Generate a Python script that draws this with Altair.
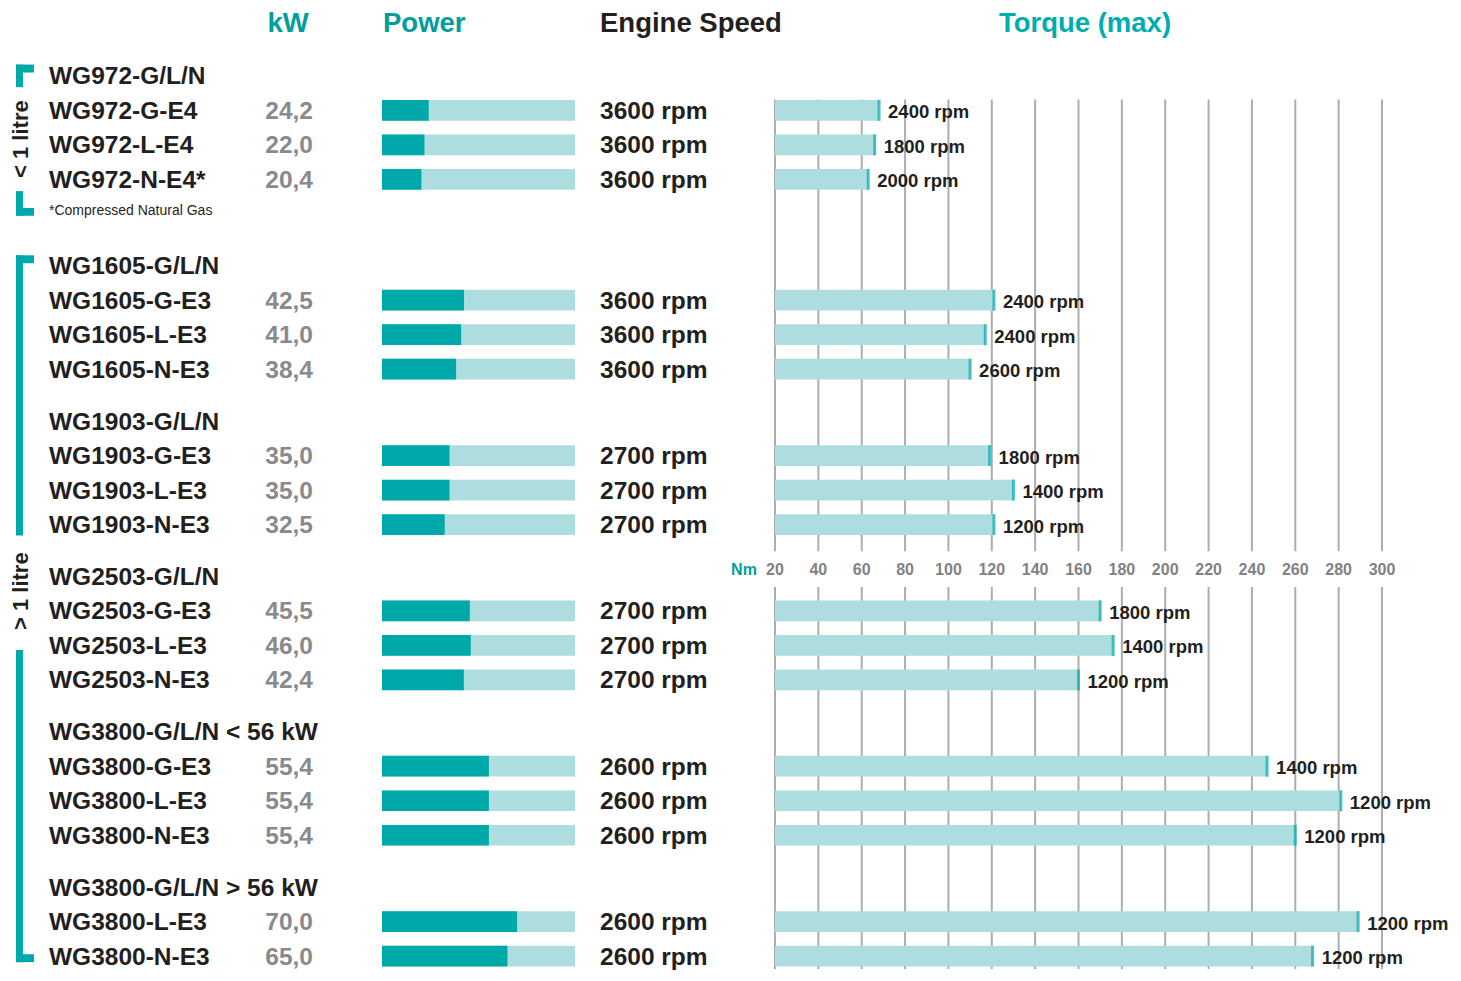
import altair as alt
import pandas as pd

# ---------------- data ----------------
group_titles = ["WG972-G/L/N", "WG1605-G/L/N", "WG1903-G/L/N", "WG2503-G/L/N",
                "WG3800-G/L/N < 56 kW", "WG3800-G/L/N > 56 kW"]
group_sizes = [3, 3, 3, 3, 3, 2]

models = ["WG972-G-E4", "WG972-L-E4", "WG972-N-E4*",
          "WG1605-G-E3", "WG1605-L-E3", "WG1605-N-E3",
          "WG1903-G-E3", "WG1903-L-E3", "WG1903-N-E3",
          "WG2503-G-E3", "WG2503-L-E3", "WG2503-N-E3",
          "WG3800-G-E3", "WG3800-L-E3", "WG3800-N-E3",
          "WG3800-L-E3", "WG3800-N-E3"]
kw = [24.2, 22.0, 20.4, 42.5, 41.0, 38.4, 35.0, 35.0, 32.5,
      45.5, 46.0, 42.4, 55.4, 55.4, 55.4, 70.0, 65.0]
engine_speed = [3600, 3600, 3600, 3600, 3600, 3600, 2700, 2700, 2700,
                2700, 2700, 2700, 2600, 2600, 2600, 2600, 2600]
torque = [68, 66, 63, 121, 117, 110, 119, 130, 121,
          170, 176, 160, 247, 281, 260, 289, 268]
torque_rpm = [2400, 1800, 2000, 2400, 2400, 2600, 1800, 1400, 1200,
              1800, 1400, 1200, 1400, 1200, 1200, 1200, 1200]
torque_ticks = [20, 40, 60, 80, 100, 120, 140, 160, 180, 200, 220, 240, 260, 280, 300]
column_headers = ["kW", "Power", "Engine Speed", "Torque (max)"]
footnote = "*Compressed Natural Gas"
class_labels = ["< 1 litre", "> 1 litre"]

# ---------------- row layout (half-row units) ----------------
header_pos, row_pos = [], []
p = 0
for gi, n in enumerate(group_sizes):
    header_pos.append(p)
    rows = [p + 2 * (k + 1) for k in range(n)]
    row_pos.extend(rows)
    p = rows[-1] + 3 + (2 if gi == 0 else 0)

foot_pos = row_pos[2] + 1.77
axis_pos = row_pos[8] + 2.57
top_pos = -3.0
HALF = 0.6  # half bar thickness

rows = pd.DataFrame({
    "model": models, "kw": kw, "speed": engine_speed, "torque": torque,
    "rpm": torque_rpm, "pos": row_pos,
})
rows["kw_label"] = [f"{v:.1f}".replace(".", ",") for v in kw]
rows["speed_label"] = [f"{v} rpm" for v in engine_speed]
rows["rpm_label"] = [f"{v} rpm" for v in torque_rpm]
rows["y0"] = rows["pos"] - HALF
rows["y1"] = rows["pos"] + HALF
rows["zero"] = 0
rows["full"] = 100
rows["tmin"] = 20

headers = pd.DataFrame({"title": group_titles, "pos": header_pos})

grid_top = row_pos[0] - HALF - 0.03
grid_bot = row_pos[-1] + 0.75
grid = pd.DataFrame(
    [{"t": t, "a": grid_top, "b": axis_pos - 1.03} for t in torque_ticks] +
    [{"t": t, "a": axis_pos + 1.04, "b": grid_bot} for t in torque_ticks]
)
axis_df = pd.DataFrame({"t": torque_ticks, "label": [str(t) for t in torque_ticks], "pos": axis_pos})

# bracket pieces (y in half-row units)
brackets = pd.DataFrame([
    {"x": 8, "x2": 26, "a": -0.65, "b": -0.19},
    {"x": 8, "x2": 15, "a": -0.65, "b": 0.66},
    {"x": 8, "x2": 15, "a": 6.68, "b": 8.11},
    {"x": 8, "x2": 26, "a": 7.66, "b": 8.11},
    {"x": 8, "x2": 26, "a": 10.4, "b": 10.86},
    {"x": 8, "x2": 15, "a": 10.4, "b": 26.63},
    {"x": 8, "x2": 15, "a": 33.27, "b": 51.35},
    {"x": 8, "x2": 26, "a": 50.89, "b": 51.35},
])
brackets["x"] = brackets["x"].astype(float)
class_df = pd.DataFrame({"label": class_labels, "pos": [3.67, 29.86]})

# ---------------- styling ----------------
FONT = "Liberation Sans"
DARK = "#231F20"
TEAL = "#00A9A9"
LIGHT = "#AEDDDF"
HEAD_TEAL = "#009E9A"
GRAY = "#8A8A8C"
GRID = "#ABADB0"

W, H = 1445, 965
yscale = alt.Scale(domain=[-3.928, 51.98], range=[0, H], nice=False, zero=False)
pscale = alt.Scale(domain=[0, 100], range=[374, 567], nice=False, zero=False)
tscale = alt.Scale(domain=[20, 300], range=[767, 1374], nice=False, zero=False)


def Y(f):
    return alt.Y(f"{f}:Q", scale=yscale, axis=None)


# gridlines
grid_layer = alt.Chart(grid).mark_rule(color=GRID, strokeWidth=2).encode(
    x=alt.X("t:Q", scale=tscale, axis=None), y=Y("a"), y2="b:Q")

axis_labels = alt.Chart(axis_df).mark_text(
    font=FONT, fontSize=16, fontWeight="bold", color="#808285", baseline="middle", dy=1
).encode(x=alt.X("t:Q", scale=tscale, axis=None), y=Y("pos"), text="label:N")

nm_label = alt.Chart(pd.DataFrame({"label": ["Nm"], "pos": [axis_pos]})).mark_text(
    font=FONT, fontSize=16, fontWeight="bold", color=HEAD_TEAL, baseline="middle", dy=1
).encode(x=alt.value(736), y=Y("pos"), text="label:N")

torque_bars = alt.Chart(rows).mark_rect(color=LIGHT).encode(
    x=alt.X("tmin:Q", scale=tscale, axis=None), x2="torque:Q", y=Y("y0"), y2="y1:Q")

torque_marks = alt.Chart(rows).mark_tick(color=TEAL, thickness=3, size=21, orient="vertical").encode(
    x=alt.X("torque:Q", scale=tscale, axis=None), y=Y("pos"))

torque_text = alt.Chart(rows).mark_text(
    font=FONT, fontSize=18.5, fontWeight="bold", color=DARK, align="left", baseline="middle", dx=9, dy=2
).encode(x=alt.X("torque:Q", scale=tscale, axis=None), y=Y("pos"), text="rpm_label:N")

power_bg = alt.Chart(rows).mark_rect(color=LIGHT).encode(
    x=alt.X("zero:Q", scale=pscale, axis=None), x2="full:Q", y=Y("y0"), y2="y1:Q")

power_fg = alt.Chart(rows).mark_rect(color=TEAL).encode(
    x=alt.X("zero:Q", scale=pscale, axis=None), x2="kw:Q", y=Y("y0"), y2="y1:Q")

name_text = alt.Chart(rows).mark_text(
    font=FONT, fontSize=24.5, fontWeight="bold", color=DARK, align="left", baseline="middle", dy=1.5
).encode(x=alt.value(41), y=Y("pos"), text="model:N")

kw_text = alt.Chart(rows).mark_text(
    font=FONT, fontSize=24.5, fontWeight="bold", color=GRAY, align="right", baseline="middle", dy=1.5
).encode(x=alt.value(305), y=Y("pos"), text="kw_label:N")

speed_text = alt.Chart(rows).mark_text(
    font=FONT, fontSize=24.5, fontWeight="bold", color=DARK, align="left", baseline="middle", dy=1.5
).encode(x=alt.value(592), y=Y("pos"), text="speed_label:N")

group_text = alt.Chart(headers).mark_text(
    font=FONT, fontSize=24.5, fontWeight="bold", color=DARK, align="left", baseline="middle", dy=1.5
).encode(x=alt.value(41), y=Y("pos"), text="title:N")

foot_text = alt.Chart(pd.DataFrame({"label": [footnote], "pos": [foot_pos]})).mark_text(
    font=FONT, fontSize=14, color=DARK, align="left", baseline="middle", dy=1
).encode(x=alt.value(41), y=Y("pos"), text="label:N")

col_df = pd.DataFrame({"label": column_headers, "pos": [top_pos] * 4})
col_layers = []
for lbl, xv, al, col in [("kW", 280, "center", HEAD_TEAL), ("Power", 375, "left", HEAD_TEAL),
                         ("Engine Speed", 592, "left", DARK), ("Torque (max)", 1077, "center", "#00ADAD")]:
    col_layers.append(
        alt.Chart(col_df[col_df["label"] == lbl]).mark_text(
            font=FONT, fontSize=27.5, fontWeight="bold", color=col, align=al, baseline="middle", dy=0
        ).encode(x=alt.value(xv), y=Y("pos"), text="label:N")
    )

bracket_layer = alt.Chart(brackets).mark_rect(color=TEAL).encode(
    x=alt.X("x:Q", scale=alt.Scale(domain=[0, W], range=[0, W], nice=False, zero=False), axis=None),
    x2="x2:Q", y=Y("a"), y2="b:Q")

class_text = alt.Chart(class_df).mark_text(
    font=FONT, fontSize=22, fontWeight="bold", color=DARK, align="center", baseline="middle", angle=270
).encode(x=alt.value(13), y=Y("pos"), text="label:N")

chart = alt.layer(
    grid_layer, axis_labels, nm_label, torque_bars, torque_marks, torque_text,
    power_bg, power_fg, name_text, kw_text, speed_text, group_text, foot_text,
    *col_layers, bracket_layer, class_text
).resolve_scale(x="independent").properties(
    width=W, height=H, padding=0, autosize=alt.AutoSizeParams(type="none")
).configure_view(stroke=None)

chart.save("out.html", embed_options={"renderer": "svg", "actions": False})
